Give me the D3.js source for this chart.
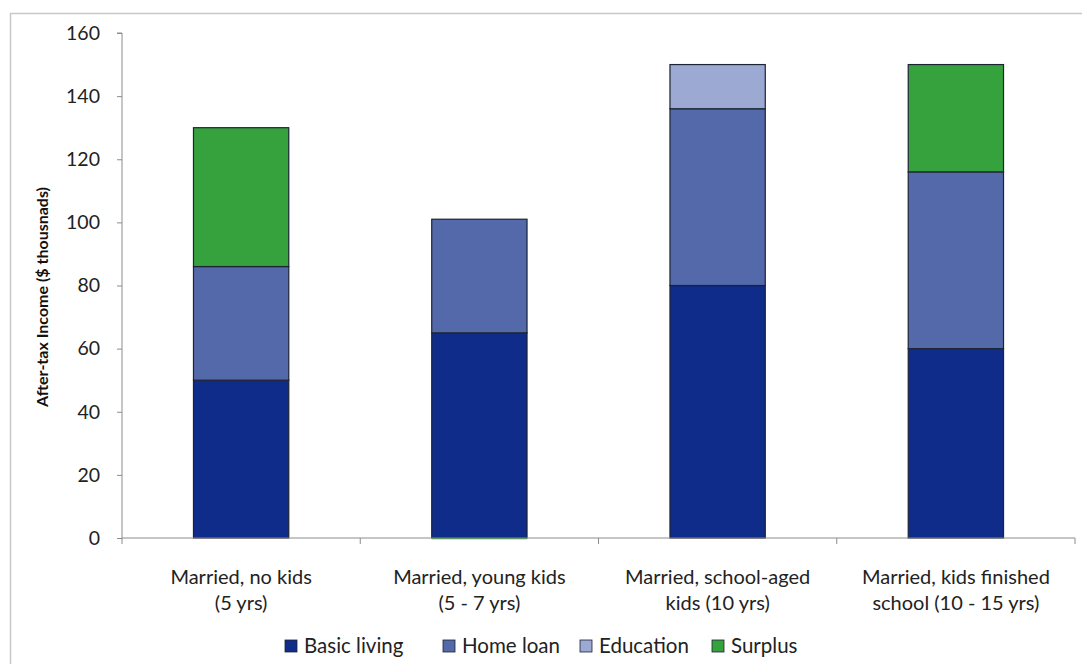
<!DOCTYPE html>
<html>
<head>
<meta charset="utf-8">
<script src="https://cdn.jsdelivr.net/npm/d3@7"></script>
<style>
  html, body { margin: 0; padding: 0; background: #fff; }
  svg { display: block; font-family: Lato, "Open Sans", sans-serif; }
</style>
</head>
<body>
<svg id="chart" width="1082" height="664"></svg>
<script>
// Life stages along the x axis (each label on two lines)
const categories = [
  ["Married, no kids", "(5 yrs)"],
  ["Married, young kids", "(5 - 7 yrs)"],
  ["Married, school-aged", "kids (10 yrs)"],
  ["Married, kids finished", "school (10 - 15 yrs)"]
];
const seriesNames = ["Basic living", "Home loan", "Education", "Surplus"];
const basicLiving = [50, 65, 80, 60];
const homeLoan    = [36, 36, 56, 56];
const education   = [0, 0, 14, 0];
const surplus     = [44, -0.4, 0, 34];
const yTicks = [0, 20, 40, 60, 80, 100, 120, 140, 160];
const colors = ["#102c8b", "#5469aa", "#9ca9d3", "#35a23e"];

const svg = d3.select("#chart");
const W = 1082, H = 664;
const plot = { left: 122, right: 1075, top: 33, bottom: 538 };

// outer frame (open on the right and bottom edges)
svg.append("rect")
  .attr("x", 10.5).attr("y", 13.5)
  .attr("width", W + 10).attr("height", H + 10)
  .attr("fill", "none").attr("stroke", "#c8c8c8").attr("stroke-width", 1.5);

const keys = seriesNames;
const rows = categories.map((c, i) => ({
  cat: i,
  "Basic living": basicLiving[i],
  "Home loan": homeLoan[i],
  "Education": education[i],
  "Surplus": surplus[i]
}));

const x = d3.scaleBand()
  .domain(d3.range(categories.length))
  .range([plot.left, plot.right])
  .paddingInner(0).paddingOuter(0);

const y = d3.scaleLinear().domain([0, 160]).range([plot.bottom, plot.top]);

const stack = d3.stack().keys(keys).offset(d3.stackOffsetDiverging);
const layers = stack(rows);

const barW = x.bandwidth() * 0.4;

// y axis
const yAxis = svg.append("g")
  .attr("transform", `translate(${plot.left},0)`)
  .call(d3.axisLeft(y).tickValues(yTicks).tickSize(5).tickPadding(17).tickFormat(d3.format("d")));
yAxis.select(".domain").attr("stroke", "#8c8c8c").attr("d", `M-5,${plot.top}H0V${plot.bottom}`);
yAxis.selectAll(".tick line").attr("stroke", "#8c8c8c");
yAxis.selectAll(".tick text")
  .attr("font-size", 19.5).attr("fill", "#222")
  .attr("font-family", "Lato, sans-serif");

// bars
svg.append("g").selectAll("g")
  .data(layers)
  .join("g")
  .attr("fill", (d, i) => colors[i])
  .selectAll("rect")
  .data(d => d.filter(s => s[1] !== s[0]))
  .join("rect")
  .attr("x", d => x(d.data.cat) + (x.bandwidth() - barW) / 2)
  .attr("y", d => y(Math.max(d[0], d[1])))
  .attr("width", barW)
  .attr("height", d => Math.abs(y(d[0]) - y(d[1])))
  .attr("stroke", d => Math.abs(d[1] - d[0]) < 1 ? "none" : "#1c2433")
  .attr("stroke-width", 1.2);

// x axis
const xAxis = svg.append("g")
  .attr("transform", `translate(0,${plot.bottom})`);
xAxis.append("line")
  .attr("x1", plot.left).attr("x2", plot.right)
  .attr("stroke", "#8c8c8c");
const bounds = d3.range(categories.length + 1).map(i =>
  i < categories.length ? x(i) : x(categories.length - 1) + x.bandwidth());
xAxis.selectAll(".xtick").data(bounds).join("line")
  .attr("x1", d => d).attr("x2", d => d)
  .attr("y1", 0).attr("y2", 6)
  .attr("stroke", "#8c8c8c");

const catLabels = svg.append("g").selectAll("text")
  .data(categories)
  .join("text")
  .attr("text-anchor", "middle")
  .attr("font-size", 20)
  .attr("fill", "#222")
  .attr("transform", (d, i) => `translate(${x(i) + x.bandwidth() / 2},0)`);
catLabels.selectAll("tspan")
  .data(d => d)
  .join("tspan")
  .attr("x", 0)
  .attr("y", (d, j) => 584 + j * 26)
  .text(d => d);

// y axis title
svg.append("text")
  .attr("transform", `translate(48,${297}) rotate(-90)`)
  .attr("text-anchor", "middle")
  .attr("font-size", 16)
  .attr("font-weight", "bold")
  .attr("fill", "#111")
  .text("After-tax Income ($ thousnads)");

// legend
const legendX = [285, 443, 580, 712];
const legend = svg.append("g").selectAll("g")
  .data(seriesNames)
  .join("g")
  .attr("transform", (d, i) => `translate(${legendX[i]},646)`);
legend.append("rect")
  .attr("x", 0).attr("y", -6)
  .attr("width", 12).attr("height", 12)
  .attr("fill", (d, i) => colors[i])
  .attr("stroke", "#1c2433").attr("stroke-width", 0.8);
legend.append("text")
  .attr("x", 19).attr("y", 7)
  .attr("font-size", 20.5)
  .attr("fill", "#222")
  .text(d => d);
</script>
</body>
</html>
